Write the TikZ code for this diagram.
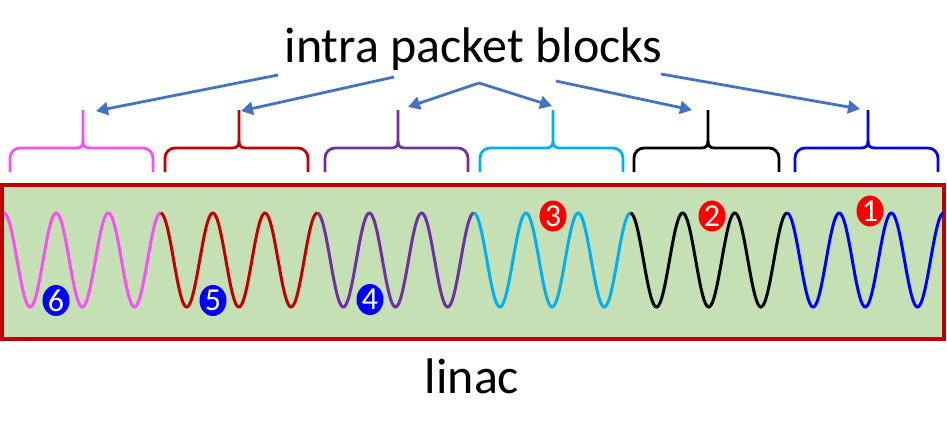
\documentclass[tikz,border=0pt]{standalone}
\usepackage{fontspec}
\setmainfont{Carlito}
\usetikzlibrary{arrows.meta,shapes.geometric}
\definecolor{pinkc}{HTML}{F94FF5}
\definecolor{redc}{HTML}{C00000}
\definecolor{purplec}{HTML}{7030A0}
\definecolor{cyanc}{HTML}{00B0F0}
\definecolor{bluec}{HTML}{0000FF}
\definecolor{arrowc}{HTML}{4472C4}
\definecolor{greenc}{HTML}{C5E0B4}
\definecolor{badgered}{HTML}{FF0000}
\tikzset{
  wave/.style={line width=3pt},
  bracestyle/.style={line width=2.8pt},
  pointer/.style={draw=arrowc, line width=2.8pt, -{Triangle[length=12pt,width=13pt]}},
  badge/.style={ellipse, inner sep=0pt, minimum width=27pt, minimum height=31pt, text=white, font=\fontsize{32}{32}\selectfont},
}
\newcommand{\mybrace}[4]{% left, mid, right, color
  \draw[bracestyle, #4, line cap=butt]
    (#1,172) -- (#1,158) arc[start angle=180, end angle=270, radius=10] -- (#2-7,148)
    .. controls (#2-2,148) and (#2,146) .. (#2,141) -- (#2,110);
  \draw[bracestyle, #4, line cap=butt]
    (#3,172) -- (#3,158) arc[start angle=0, end angle=-90, radius=10] -- (#2+7,148)
    .. controls (#2+2,148) and (#2,146) .. (#2,141);
}
\begin{document}
\begin{tikzpicture}[x=1pt, y=-1pt]
\useasboundingbox (0,0) rectangle (947,437);
% linac box
\draw[fill=greenc, draw=redc, line width=3.5pt] (2,185) rectangle (944,339);
% waves
\foreach \k/\c in {0/pinkc, 1/redc, 2/purplec, 3/cyanc, 4/black, 5/bluec} {
  \pgfmathsetmacro{\xa}{4+156.6*\k}
  \pgfmathsetmacro{\xb}{4+156.6*(\k+1)}
  \draw[wave, \c] plot[domain=\xa:\xb, samples=120, smooth] (\x, {260-47*cos(((\x-4)/52.2)*360)});
}
% braces
\mybrace{10}{83}{153}{pinkc}
\mybrace{165}{239}{308}{redc}
\mybrace{325}{398}{468}{purplec}
\mybrace{480}{553}{623}{cyanc}
\mybrace{634}{708}{779}{black}
\mybrace{795}{868}{938}{bluec}
% title and label
\node[font=\fontsize{50}{50}\selectfont, anchor=base, inner sep=0pt] (title) at (473.5,62) {intra packet blocks};
\node[font=\fontsize{50}{50}\selectfont, anchor=base, inner sep=0pt] (linac) at (472,393) {linac};
% arrow coordinates
\coordinate (s1) at (278,75);
\coordinate (s2) at (394,77);
\coordinate (s3) at (479,83);
\coordinate (s5) at (556,81);
\coordinate (s6) at (661,74);
\coordinate (e1) at (96,111);
\coordinate (e2) at (241,111);
\coordinate (e3) at (408,107);
\coordinate (e4) at (552,106);
\coordinate (e5) at (692,110);
\coordinate (e6) at (860,109);
\draw[pointer] (s1) -- (e1);
\draw[pointer] (s2) -- (e2);
\draw[pointer] (s3) -- (e3);
\draw[pointer] (s3) -- (e4);
\draw[pointer] (s5) -- (e5);
\draw[pointer] (s6) -- (e6);
% badges
\node[badge, fill=bluec] (b6) at (56,300.5) {6};
\node[badge, fill=bluec] (b5) at (213,300.5) {5};
\node[badge, fill=bluec] (b4) at (370,299.5) {4};
\node[badge, fill=badgered] (b3) at (553,216) {3};
\node[badge, fill=badgered] (b2) at (712,216) {2};
\node[badge, fill=badgered] (b1) at (870,211) {1};
\end{tikzpicture}
\end{document}
